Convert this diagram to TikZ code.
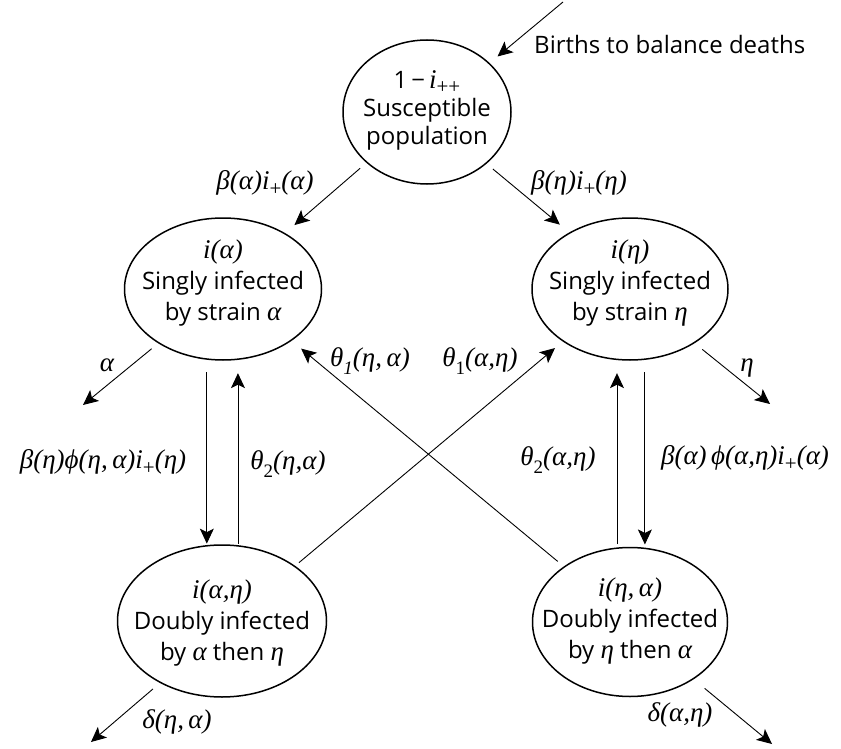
\documentclass[tikz,border=0pt]{standalone}
\usepackage{fontspec}
\setmainfont{Open Sans}
\newfontfamily\serifmath{Liberation Serif}
\usetikzlibrary{arrows.meta,shapes.geometric}
\newcommand\gk[1]{{\fontsize{27}{31}\serifmath\itshape #1}}
\newcommand\sub[1]{\raisebox{-0.27em}{\fontsize{19}{19}\selectfont #1}}
\newcommand\subplus{\raisebox{-0.22em}{\fontsize{21}{21}\selectfont\upshape +}}
\tikzset{
  ell/.style={draw, ellipse, line width=1.5pt, inner sep=0pt, outer sep=0pt},
  arr/.style={-{Stealth[length=15pt,width=14pt,inset=3.5pt]}, line width=0.9pt},
  txt/.style={align=center, font=\fontsize{24}{31}\selectfont, inner sep=0pt},
  lbl/.style={font=\fontsize{27}{30}\selectfont\serifmath\itshape, inner sep=0pt}
}
\begin{document}
\begin{tikzpicture}[x=1pt,y=-1pt]
\useasboundingbox (0,0) rectangle (841,749);
% compartments
\node[ell, minimum width=168pt, minimum height=144pt] (S) at (427,112) {};
\node[ell, minimum width=197pt, minimum height=142pt] (ia) at (223,289) {};
\node[ell, minimum width=196pt, minimum height=142pt] (ie) at (630,289) {};
\node[ell, minimum width=209pt, minimum height=152pt] (dae) at (222,621) {};
\node[ell, minimum width=195pt, minimum height=149pt] (dea) at (630,622) {};
% texts
\node[txt, font=\fontsize{24}{28}\selectfont] (S-t) at (427,110) {1\,−\,\gk{i\subplus\subplus}\\Susceptible\\population};
\node[txt] (ia-t) at (223,283) {\gk{i(α)}\\Singly infected\\by strain \gk{α}};
\node[txt] (ie-t) at (630,283) {\gk{i(η)}\\Singly infected\\by strain \gk{η}};
\node[txt] (dae-t) at (222,623) {\gk{i(α,η)}\\Doubly infected\\by \gk{α} then \gk{η}};
\node[txt] (dea-t) at (630,621) {\gk{i(η,\,α)}\\Doubly infected\\by \gk{η} then \gk{α}};
% births
\coordinate (bstart) at (563,2);
\draw[arr, shorten >=11pt] (bstart) -- (S.38.6);
\node[txt, anchor=west] (births) at (534,45) {Births to balance deaths};
% infections of susceptibles
\draw[arr, shorten <=9pt, shorten >=13pt] (S.220.8) -- (ia.42.6);
\draw[arr, shorten <=9pt, shorten >=13pt] (S.319.2) -- (ie.137.4);
\node[lbl] (l1) at (265,183) {β(α)i\subplus(α)};
\node[lbl] (l2) at (579,183) {β(η)i\subplus(η)};
% recoveries of singles
\coordinate (aend) at (83,405);
\draw[arr, shorten <=9.3pt] (ia.220.3) -- (aend);
\node[lbl] (l3) at (107,365) {α};
\coordinate (eend) at (770,404);
\draw[arr, shorten <=10.6pt] (ie.320.6) -- (eend);
\node[lbl] (l4) at (747,368) {η};
% superinfection / reversion
\draw[arr, shorten <=13pt, shorten >=2pt] (ia.257.9) -- (ia.257.9 |- dae.100.5);
\draw[arr, shorten <=2pt, shorten >=14pt] (dae.78) -- (dae.78 |- ia.282.1);
\draw[arr, shorten <=13pt, shorten >=4pt] (ie.282.1) -- (ie.282.1 |- dea.78.5);
\draw[arr, shorten <=4pt, shorten >=14pt] (dea.100.8) -- (dea.100.8 |- ie.258.7);
\node[lbl] (l5) at (103,462) {β(η)ϕ(η,\,α)i\subplus(η)};
\node[lbl] (l6) at (288,464) {θ\sub{\upshape 2}(η,α)};
\node[lbl] (l7) at (558,460) {θ\sub{\upshape 2}(α,η)};
\node[lbl] (l8) at (745,458) {β(α)\,ϕ(α,η)i\subplus(α)};
% crossing transitions
\draw[arr, shorten <=5.7pt, shorten >=10.9pt] (dae.37.7) -- (ie.218);
\draw[arr, shorten <=8.6pt, shorten >=13pt] (dea.140.6) -- (ia.323.7);
\node[lbl] (l9) at (370,361) {θ\sub{1}(η,\,α)};
\node[lbl] (l10) at (480,361) {θ\sub{\upshape 1}(α,η)};
% deaths of doubles
\coordinate (d1end) at (91,742);
\draw[arr, shorten <=10pt] (dae.225.1) -- (d1end);
\node[lbl] (l11) at (177,722) {δ(η,\,α)};
\coordinate (d2end) at (772,744);
\draw[arr, shorten <=15pt] (dea.318.4) -- (d2end);
\node[lbl] (l12) at (680,715) {δ(α,η)};
\end{tikzpicture}
\end{document}
